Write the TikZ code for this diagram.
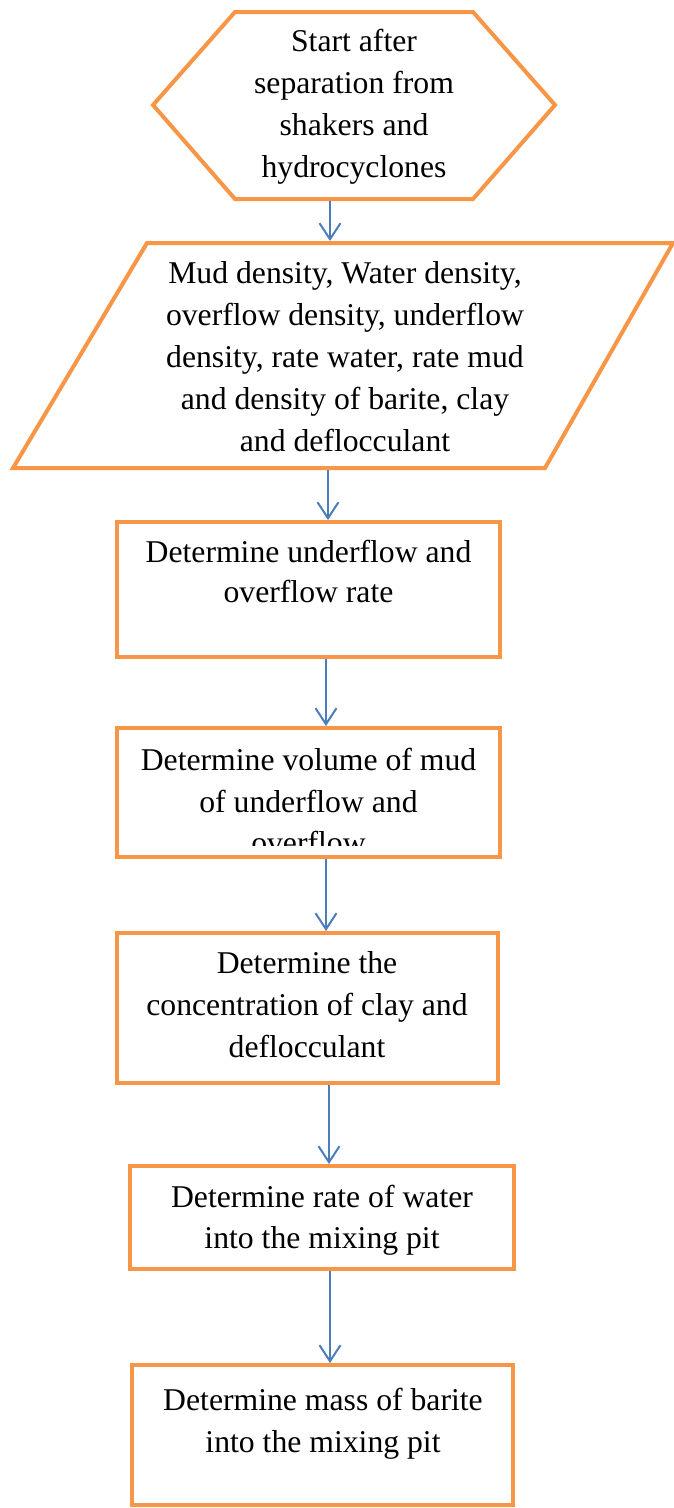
\documentclass[tikz,border=0pt]{standalone}
\usepackage{fontspec}
\setmainfont{Liberation Serif}
\usetikzlibrary{arrows.meta}
\definecolor{orangeline}{HTML}{F79646}
\definecolor{arrowblue}{HTML}{4A7EBB}
\begin{document}
\begin{tikzpicture}[x=1pt,y=-1pt,
  shapeline/.style={draw=orangeline, line width=4pt, line join=miter},
  box/.style={shapeline, rectangle, inner sep=0pt},
  lbl/.style={anchor=base, inner sep=0pt, text=black, font=\fontsize{31.7}{40}\selectfont},
  arr/.style={draw=arrowblue, line width=2pt, -{Straight Barb[length=16pt,width=21pt]}}]
\useasboundingbox[fill=white] (0,0) rectangle (674,1508);

% start hexagon
\draw[shapeline] (235,12) -- (473,12) -- (555,105) -- (473,199) -- (235,199) -- (153,105) -- cycle;
\coordinate (hexS) at (330,201);
\node[lbl] (h1) at (354,51) {Start after};
\node[lbl] (h2) at (354,93) {separation from};
\node[lbl] (h3) at (354,135) {shakers and};
\node[lbl] (h4) at (354,177) {hydrocyclones};

% input parallelogram
\draw[shapeline] (147,243) -- (673,243) -- (545,468) -- (13,468) -- cycle;
\coordinate (parN) at (330,241);
\coordinate (parS) at (328,470);
\node[lbl] (p1) at (345,283) {Mud density, Water density,};
\node[lbl] (p2) at (345,325) {overflow density, underflow};
\node[lbl] (p3) at (345,367) {density, rate water, rate mud};
\node[lbl] (p4) at (345,409) {and density of barite, clay};
\node[lbl] (p5) at (345,451) {and deflocculant};

% process boxes
\node[box, minimum width=383pt, minimum height=135pt] (b3) at (308.5,589.5) {};
\node[lbl] (t3a) at (308.5,562) {Determine underflow and};
\node[lbl] (t3b) at (308.5,602) {overflow rate};

\node[box, minimum width=383pt, minimum height=129pt] (b4) at (308.5,792.5) {};
\node[lbl] (t4a) at (308.5,770) {Determine volume of mud};
\node[lbl] (t4b) at (308.5,812) {of underflow and};
\begin{scope}
  \clip (119,730) rectangle (498,845);
  \node[lbl] (t4c) at (308.5,853) {overflow};
\end{scope}

\node[box, minimum width=381pt, minimum height=150pt] (b5) at (307.5,1008) {};
\node[lbl] (t5a) at (307,973) {Determine the};
\node[lbl] (t5b) at (307,1015) {concentration of clay and};
\node[lbl] (t5c) at (307,1057) {deflocculant};

\node[box, minimum width=384pt, minimum height=103pt] (b6) at (322,1217.5) {};
\node[lbl] (t6a) at (322,1207) {Determine rate of water};
\node[lbl] (t6b) at (322,1248) {into the mixing pit};

\node[box, minimum width=381pt, minimum height=140pt] (b7) at (322.5,1435) {};
\node[lbl] (t7a) at (323,1410) {Determine mass of barite};
\node[lbl] (t7b) at (323,1452) {into the mixing pit};

% connector x positions
\coordinate (x2) at (328,0);
\coordinate (x3) at (326,0);
\coordinate (x4) at (326,0);
\coordinate (x5) at (329,0);
\coordinate (x6) at (330,0);

% connectors
\draw[arr] (hexS) -- (parN);
\draw[arr] (parS) -- (b3.north -| x2);
\draw[arr] (b3.south -| x3) -- (b4.north -| x3);
\draw[arr] (b4.south -| x4) -- (b5.north -| x4);
\draw[arr] (b5.south -| x5) -- (b6.north -| x5);
\draw[arr] (b6.south -| x6) -- (b7.north -| x6);
\end{tikzpicture}
\end{document}
